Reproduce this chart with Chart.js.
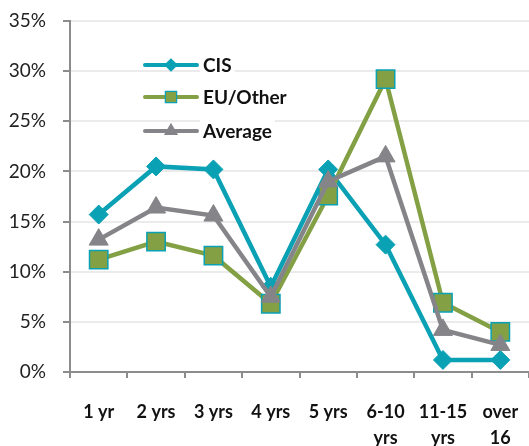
<!DOCTYPE html>
<html>
<head>
<meta charset="utf-8">
<script src="https://cdn.jsdelivr.net/npm/chart.js@4/dist/chart.umd.min.js"></script>
<style>
  html, body { margin: 0; padding: 0; background: #fff; }
  #wrap { width: 529px; height: 446px; position: relative; }
</style>
</head>
<body>
<div id="wrap"><canvas id="c"></canvas></div>
<script>
// Share of respondents by length of stay
const categories = [["1 yr"], ["2 yrs"], ["3 yrs"], ["4 yrs"], ["5 yrs"], ["6-10", "yrs"], ["11-15", "yrs"], ["over", "16"]];
const cisValues = [15.7, 20.5, 20.2, 8.5, 20.2, 12.7, 1.2, 1.2];
const euOtherValues = [11.2, 13.0, 11.6, 6.8, 17.6, 29.2, 6.9, 4.0];
const averageValues = [13.2, 16.4, 15.6, 7.5, 19.0, 21.5, 4.2, 2.7];
const yTicks = [0, 5, 10, 15, 20, 25, 30, 35];

const TEAL = '#0aa1b5';
const OLIVE = '#83a044';
const GREY = '#858589';
const FONT = 'Lato, "Open Sans", sans-serif';

// Legend drawn inside the plot: line sample with the marker centred on it
const insideLegend = {
  id: 'insideLegend',
  afterDatasetsDraw(chart) {
    const ctx = chart.ctx;
    const items = [
      { text: 'CIS', color: TEAL, style: 'rectRot', fill: TEAL, border: TEAL, r: 6, y: 65 },
      { text: 'EU/Other', color: OLIVE, style: 'rect', fill: OLIVE, border: TEAL, r: 8, y: 97 },
      { text: 'Average', color: GREY, style: 'triangle', fill: GREY, border: GREY, r: 7, y: 131 }
    ];
    ctx.save();
    ctx.font = 'bold 19px ' + FONT;
    items.forEach(it => {
      const w = ctx.measureText(it.text).width;
      ctx.fillStyle = '#fff';
      ctx.fillRect(200, it.y - 12, w + 6, 24);
      ctx.strokeStyle = it.color;
      ctx.lineWidth = 4;
      ctx.lineCap = 'round';
      ctx.beginPath();
      ctx.moveTo(145, it.y);
      ctx.lineTo(197, it.y);
      ctx.stroke();
      ctx.fillStyle = it.fill;
      ctx.strokeStyle = it.border;
      ctx.lineWidth = 1.2;
      Chart.helpers.drawPoint(ctx, { pointStyle: it.style, rotation: 0, radius: it.r, borderWidth: 1.2 }, 171, it.y);
      ctx.fillStyle = '#111';
      ctx.textBaseline = 'middle';
      ctx.textAlign = 'left';
      ctx.fillText(it.text, 203, it.y + 1);
    });
    ctx.restore();
  }
};

new Chart(document.getElementById('c'), {
  type: 'line',
  data: {
    labels: categories,
    datasets: [
      {
        label: 'CIS', data: cisValues, order: 3,
        borderColor: TEAL, backgroundColor: TEAL, borderWidth: 4.5,
        pointStyle: 'rectRot', pointRadius: 9.5, pointBackgroundColor: TEAL,
        pointBorderColor: TEAL, pointBorderWidth: 1, tension: 0
      },
      {
        label: 'EU/Other', data: euOtherValues, order: 2,
        borderColor: OLIVE, backgroundColor: OLIVE, borderWidth: 4.5,
        pointStyle: 'rect', pointRadius: 13, pointBackgroundColor: OLIVE,
        pointBorderColor: TEAL, pointBorderWidth: 1.5, tension: 0
      },
      {
        label: 'Average', data: averageValues, order: 1,
        borderColor: GREY, backgroundColor: GREY, borderWidth: 4.5,
        pointStyle: 'triangle', pointRadius: 11, pointBackgroundColor: GREY,
        pointBorderColor: GREY, pointBorderWidth: 1, tension: 0
      }
    ]
  },
  options: {
    responsive: true,
    maintainAspectRatio: false,
    animation: false,
    layout: { autoPadding: false, padding: { top: 21, right: 0, left: 0, bottom: 0 } },
    plugins: { legend: { display: false }, tooltip: { enabled: false } },
    scales: {
      x: {
        offset: true,
        grid: {
          display: true, drawOnChartArea: false, drawTicks: true,
          tickLength: 6, color: '#8c8c8c', lineWidth: 2, offset: true
        },
        border: { display: true, color: '#8c8c8c', width: 2 },
        ticks: {
          color: '#111', autoSkip: false, maxRotation: 0,
          font: { family: FONT, size: 18, weight: 'bold', lineHeight: 1.4 },
          padding: 22
        },
        afterFit(s) { s.height = 74; s.paddingLeft = 0; s.paddingRight = 0; }
      },
      y: {
        min: 0, max: 35,
        afterBuildTicks(s) { s.ticks = yTicks.map(v => ({ value: v })); },
        grid: { color: '#ebebeb', lineWidth: 2, drawTicks: true, tickLength: 7, tickColor: '#8c8c8c' },
        border: { display: true, color: '#8c8c8c', width: 2 },
        ticks: {
          color: '#222', padding: 17,
          font: { family: FONT, size: 19 },
          callback: v => v + '%'
        },
        afterFit(s) { s.width = 70; s.paddingTop = 0; s.paddingBottom = 0; }
      }
    }
  },
  plugins: [insideLegend]
});
</script>
</body>
</html>
